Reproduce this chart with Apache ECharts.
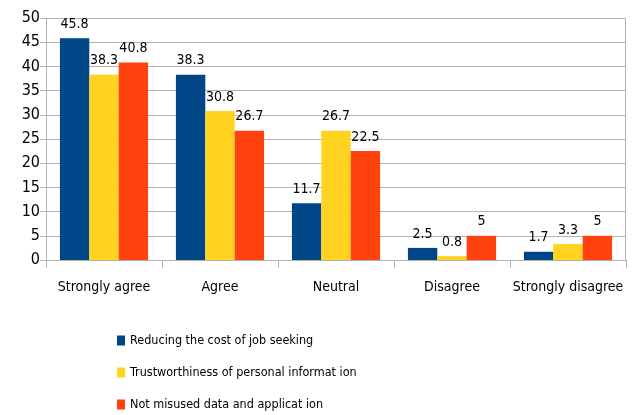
<!DOCTYPE html>
<html>
<head>
<meta charset="utf-8">
<script src="https://cdn.jsdelivr.net/npm/echarts@6/dist/echarts.min.js"></script>
<style>
  html, body { margin: 0; padding: 0; background: #ffffff; }
  #chart { width: 635px; height: 415px; }
</style>
</head>
<body>
<div id="chart"></div>
<script>
// Survey responses (percent) per agreement level
const categories = ['Strongly agree', 'Agree', 'Neutral', 'Disagree', 'Strongly disagree'];
const seriesNames = [
  'Reducing the cost of job seeking',
  'Trustworthiness of personal informat ion',
  'Not misused data and applicat ion'
];
const costOfJobSeeking = [45.8, 38.3, 11.7, 2.5, 1.7];
const trustworthiness = [38.3, 30.8, 26.7, 0.8, 3.3];
const notMisused = [40.8, 26.7, 22.5, 5, 5];
const yTicks = { min: 0, max: 50, interval: 5 };

const colors = ['#004586', '#ffd320', '#ff420e'];
const FONT = '"Liberation Sans Narrow", "DejaVu Sans Condensed", "Liberation Sans", sans-serif';

const chart = echarts.init(document.getElementById('chart'), null, { renderer: 'canvas' });

function barSeries(name, data, color) {
  return {
    name: name,
    type: 'bar',
    data: data,
    barGap: '0%',
    barCategoryGap: '24%',
    itemStyle: { color: color },
    label: {
      show: true,
      position: 'top',
      distance: 7,
      color: '#000000',
      fontFamily: FONT,
      fontSize: 14
    },
    emphasis: { disabled: true }
  };
}

// one legend block per series, stacked vertically
const legendRows = [329, 361, 393];
const legends = seriesNames.map((name, i) => ({
  orient: 'vertical',
  left: 112,
  top: legendRows[i],
  itemWidth: 8,
  itemHeight: 10,
  itemGap: 4,
  icon: 'rect',
  textStyle: { fontFamily: FONT, fontSize: 12.5, color: '#000000' },
  data: [name]
}));

chart.setOption({
  animation: false,
  color: colors,
  grid: { left: 46, right: 9, top: 18, bottom: 155, containLabel: false },
  legend: legends,
  xAxis: {
    type: 'category',
    data: categories,
    axisLine: { show: true, lineStyle: { color: '#b3b3b3', width: 1 } },
    axisTick: { show: true, length: 8, alignWithLabel: false, lineStyle: { color: '#b3b3b3' } },
    axisLabel: { color: '#000000', fontFamily: FONT, fontSize: 14, margin: 20, interval: 0 },
    splitLine: { show: false }
  },
  yAxis: {
    type: 'value',
    min: yTicks.min,
    max: yTicks.max,
    interval: yTicks.interval,
    axisLine: { show: true, lineStyle: { color: '#b3b3b3', width: 1 } },
    axisTick: { show: true, length: 6, lineStyle: { color: '#b3b3b3' } },
    axisLabel: { color: '#000000', fontFamily: FONT, fontSize: 16, margin: 6 },
    splitLine: { show: true, lineStyle: { color: '#b3b3b3', width: 1 } }
  },
  series: [
    barSeries(seriesNames[0], costOfJobSeeking, colors[0]),
    barSeries(seriesNames[1], trustworthiness, colors[1]),
    barSeries(seriesNames[2], notMisused, colors[2])
  ]
});

// right edge of the plot frame
const frameTop = chart.convertToPixel({ yAxisIndex: 0 }, yTicks.max);
const frameBottom = chart.convertToPixel({ yAxisIndex: 0 }, yTicks.min);
const frameRight = 635 - 9;
chart.setOption({
  graphic: [{
    type: 'line',
    shape: { x1: frameRight - 0.5, y1: frameTop, x2: frameRight - 0.5, y2: frameBottom },
    style: { stroke: '#b3b3b3', lineWidth: 1 },
    silent: true
  }]
});
</script>
</body>
</html>
